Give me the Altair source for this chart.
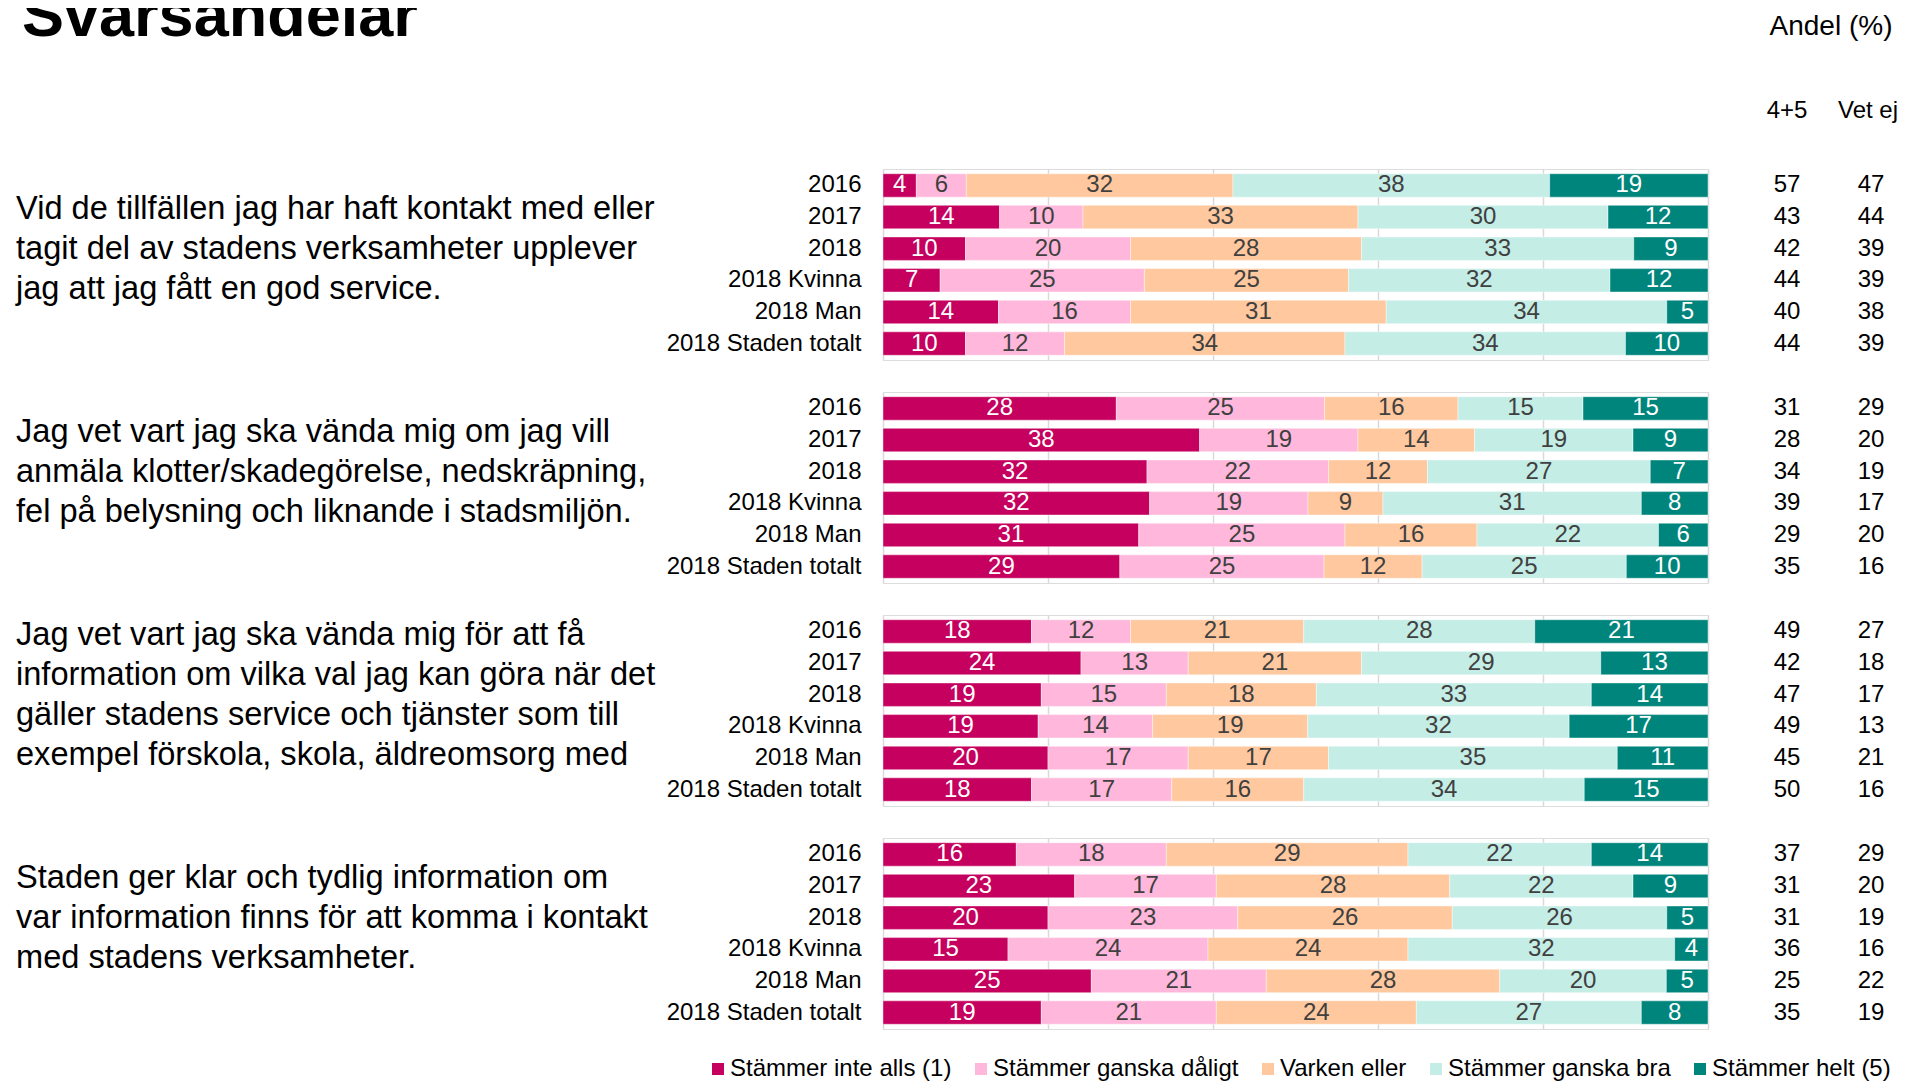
import altair as alt
import pandas as pd

FONT = "Liberation Sans"

title_text = "Svarsandelar"
header_share = "Andel (%)"
header_top2 = "4+5"
header_vetej = "Vet ej"

rows = ["2016", "2017", "2018", "2018 Kvinna", "2018 Man", "2018 Staden totalt"]
categories = ["Stämmer inte alls (1)", "Stämmer ganska dåligt", "Varken eller",
              "Stämmer ganska bra", "Stämmer helt (5)"]
colors = ["#C5005E", "#FFB8DB", "#FFC89E", "#C4EDE6", "#00857C"]

questions = [
    "Vid de tillfällen jag har haft kontakt med eller\ntagit del av stadens verksamheter upplever\njag att jag fått en god service.",
    "Jag vet vart jag ska vända mig om jag vill\nanmäla klotter/skadegörelse, nedskräpning,\nfel på belysning och liknande i stadsmiljön.",
    "Jag vet vart jag ska vända mig för att få\ninformation om vilka val jag kan göra när det\ngäller stadens service och tjänster som till\nexempel förskola, skola, äldreomsorg med",
    "Staden ger klar och tydlig information om\nvar information finns för att komma i kontakt\nmed stadens verksamheter.",
]

# values per row: [1, 2, 3, 4, 5]
q1_values = [[4, 6, 32, 38, 19], [14, 10, 33, 30, 12], [10, 20, 28, 33, 9],
             [7, 25, 25, 32, 12], [14, 16, 31, 34, 5], [10, 12, 34, 34, 10]]
q1_top2 = [57, 43, 42, 44, 40, 44]
q1_vetej = [47, 44, 39, 39, 38, 39]

q2_values = [[28, 25, 16, 15, 15], [38, 19, 14, 19, 9], [32, 22, 12, 27, 7],
             [32, 19, 9, 31, 8], [31, 25, 16, 22, 6], [29, 25, 12, 25, 10]]
q2_top2 = [31, 28, 34, 39, 29, 35]
q2_vetej = [29, 20, 19, 17, 20, 16]

q3_values = [[18, 12, 21, 28, 21], [24, 13, 21, 29, 13], [19, 15, 18, 33, 14],
             [19, 14, 19, 32, 17], [20, 17, 17, 35, 11], [18, 17, 16, 34, 15]]
q3_top2 = [49, 42, 47, 49, 45, 50]
q3_vetej = [27, 18, 17, 13, 21, 16]

q4_values = [[16, 18, 29, 22, 14], [23, 17, 28, 22, 9], [20, 23, 26, 26, 5],
             [15, 24, 24, 32, 4], [25, 21, 28, 20, 5], [19, 21, 24, 27, 8]]
q4_top2 = [37, 31, 31, 36, 25, 35]
q4_vetej = [29, 20, 19, 16, 22, 19]

all_values = [q1_values, q2_values, q3_values, q4_values]
all_top2 = [q1_top2, q2_top2, q3_top2, q4_top2]
all_vetej = [q1_vetej, q2_vetej, q3_vetej, q4_vetej]

PW = 825   # plot width
PH = 191   # plot height per question
LINE_H = 40
TEXT_CENTER = 80

def long_table(values):
    recs = []
    for r, vals in zip(rows, values):
        total = float(sum(vals))
        cum = 0.0
        for c, v in zip(categories, vals):
            s = cum / total
            cum += v
            e = cum / total
            recs.append({"row": r, "cat": c, "value": v, "start": s, "end": e,
                         "mid": (s + e) / 2})
    return pd.DataFrame(recs)

y_enc = alt.Y("row:N", sort=rows, title=None,
              scale=alt.Scale(domain=rows, paddingInner=0.26, paddingOuter=0.15),
              axis=alt.Axis(domain=False, ticks=False, labelFontSize=24, labelLimit=400,
                            labelColor="#000000", labelFont=FONT, labelPadding=22))

x_axis = alt.Axis(values=[0, 0.2, 0.4, 0.6, 0.8, 1.0], labels=False, ticks=False,
                  domain=False, grid=True, gridColor="#d9d9d9", gridWidth=1.5, title=None)
x_scale = alt.Scale(domain=[0, 1], nice=False, zero=False)

def txt(t, x, y, size=24, **kw):
    return alt.Chart(pd.DataFrame({"t": [t]})).mark_text(
        fontSize=size, font=FONT, color="#000000", **kw
    ).encode(x=alt.value(x), y=alt.value(y), text="t:N")

def panel(i):
    d = long_table(all_values[i])
    side = pd.DataFrame({"row": rows, "top2": all_top2[i], "vetej": all_vetej[i]})
    base = alt.Chart(d)
    bars = base.mark_bar(stroke="#ffffff", strokeWidth=0.6, strokeOpacity=0.7).encode(
        x=alt.X("start:Q", scale=x_scale, axis=x_axis),
        x2="end:Q",
        y=y_enc,
        color=alt.Color("cat:N", sort=categories,
                        scale=alt.Scale(domain=categories, range=colors),
                        legend=alt.Legend(title=None, orient="none", direction="horizontal",
                                          columns=5, legendX=-177, legendY=888,
                                          symbolType="square", symbolSize=144,
                                          symbolStrokeWidth=0, labelFontSize=24,
                                          labelFont=FONT, labelColor="#000000",
                                          labelLimit=400, columnPadding=17,
                                          labelOffset=0)),
    )
    labels = base.mark_text(fontSize=24, font=FONT, baseline="middle").encode(
        x=alt.X("mid:Q", scale=x_scale, axis=x_axis),
        y=y_enc,
        text="value:Q",
        color=alt.condition(
            alt.FieldOneOfPredicate(field="cat", oneOf=[categories[0], categories[4]]),
            alt.value("#ffffff"), alt.value("#404040")),
    )
    sbase = alt.Chart(side)
    col1 = sbase.mark_text(fontSize=24, font=FONT, color="#000000", align="center",
                           baseline="middle").encode(
        x=alt.value(904), y=y_enc, text="top2:Q")
    col2 = sbase.mark_text(fontSize=24, font=FONT, color="#000000", align="center",
                           baseline="middle").encode(
        x=alt.value(988), y=y_enc, text="vetej:Q")
    n_lines = questions[i].count("\n") + 1
    qtext = txt(questions[i], -867, TEXT_CENTER - (n_lines - 1) * LINE_H / 2, size=32.6,
                align="left", baseline="middle", lineHeight=LINE_H, lineBreak="\n")
    layers = [bars, labels, col1, col2, qtext]
    if i == 0:
        layers += [
            txt(header_top2, 904, -58, align="center", baseline="middle"),
            txt(header_vetej, 985, -58, align="center", baseline="middle"),
            txt(header_share, 948, -142, size=28, align="center", baseline="middle"),
            txt(title_text, -861, -133, size=63, fontWeight="bold", align="left",
                baseline="alphabetic"),
        ]
    return alt.layer(*layers).properties(width=PW, height=PH)

chart = alt.vconcat(*[panel(i) for i in range(4)], spacing=30).properties(
    padding={"left": 7, "top": -23, "right": 0, "bottom": 0}
).configure_view(stroke=None).configure(background="#ffffff")

chart.save("out.html", embed_options={"renderer": "svg", "actions": False})
